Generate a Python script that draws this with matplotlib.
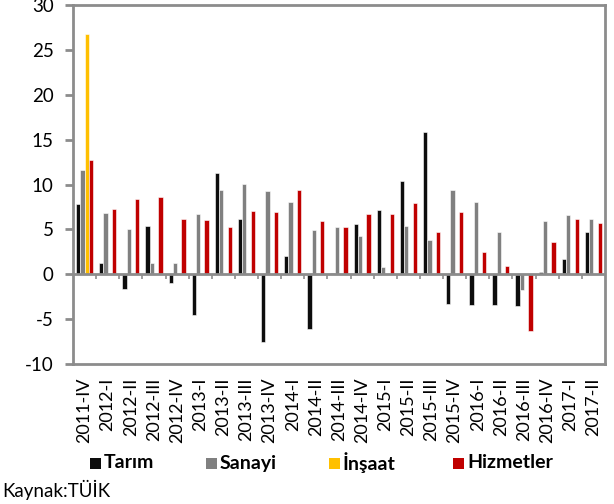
import numpy as np
import matplotlib
matplotlib.use('Agg')
import matplotlib.pyplot as plt
from matplotlib.patches import Rectangle

plt.rcParams['font.family'] = ['Lato', 'DejaVu Sans']
plt.rcParams['axes.unicode_minus'] = False

# Quarters
quarters = ['2011-IV', '2012-I', '2012-II', '2012-III', '2012-IV',
            '2013-I', '2013-II', '2013-III', '2013-IV',
            '2014-I', '2014-II', '2014-III', '2014-IV',
            '2015-I', '2015-II', '2015-III', '2015-IV',
            '2016-I', '2016-II', '2016-III', '2016-IV',
            '2017-I', '2017-II']

# Values (%)
tarim = [7.8, 1.3, -1.6, 5.4, -1.0, -4.5, 11.3, 6.2, -7.5, 2.0, -6.1, 0.15,
         5.6, 7.2, 10.4, 15.8, -3.3, -3.4, -3.4, -3.5, 0.3, 1.7, 4.7]
sanayi = [11.6, 6.8, 5.0, 1.3, 1.2, 6.7, 9.4, 10.1, 9.3, 8.1, 4.9, 5.3,
          4.3, 0.8, 5.4, 3.85, 9.4, 8.1, 4.7, -1.8, 5.9, 6.6, 6.2]
insaat = [26.8] + [np.nan] * 22
hizmetler = [12.7, 7.3, 8.4, 8.6, 6.2, 6.1, 5.3, 7.1, 6.9, 9.4, 5.9, 5.3,
             6.7, 6.7, 7.9, 4.7, 6.9, 2.5, 0.9, -6.3, 3.6, 6.2, 5.7]

series = [('Tarım', tarim, '#0d0d0d'),
          ('Sanayi', sanayi, '#808080'),
          ('İnşaat', insaat, '#ffc000'),
          ('Hizmetler', hizmetler, '#c00000')]

grid_col = '#8c8c8c'
W, H = 614, 504

fig = plt.figure(figsize=(6.14, 5.04), dpi=100)
ax = fig.add_axes([73 / W, 1 - 364 / H, 532 / W, 359 / H])

x = np.arange(len(quarters))
w = 0.185
for i, (name, vals, col) in enumerate(series):
    ax.bar(x + (i - 1.5) * w, vals, width=w, color=col,
           edgecolor='white', linewidth=0.4, label=name, zorder=2)

# zero line with category-boundary ticks
ax.axhline(0, color=grid_col, linewidth=2, zorder=3)
ax.vlines(x[1:] - 0.5, -0.5, 0, color=grid_col, linewidth=1.2, zorder=3)

ax.set_xlim(-0.5, len(quarters) - 0.5)
ax.set_ylim(-10, 30)
ax.set_yticks(range(-10, 31, 5))
ax.set_xticks(x)
ax.set_xticklabels(quarters, rotation=90, fontsize=13)
ax.tick_params(axis='x', length=0, pad=10)
ax.tick_params(axis='y', length=6, width=2, color=grid_col, labelsize=13.5, pad=8)

for s in ax.spines.values():
    s.set_color(grid_col)
    s.set_linewidth(2)

# legend laid out by hand, one entry per series
leg_x = [90, 206, 329, 453]
leg_y = 463
for (name, _, col), lx in zip(series, leg_x):
    fig.add_artist(Rectangle((lx / W, 1 - (leg_y + 5.5) / H), 11 / W, 11 / H,
                             transform=fig.transFigure, facecolor=col, edgecolor='none'))
    fig.text((lx + 14) / W, 1 - leg_y / H, name, fontsize=14, fontweight='bold',
             va='center', ha='left')

fig.text(2 / W, 1 - 490 / H, 'Kaynak:TÜİK', fontsize=13.5, va='center', ha='left')

fig.savefig('out.png', dpi=100)
